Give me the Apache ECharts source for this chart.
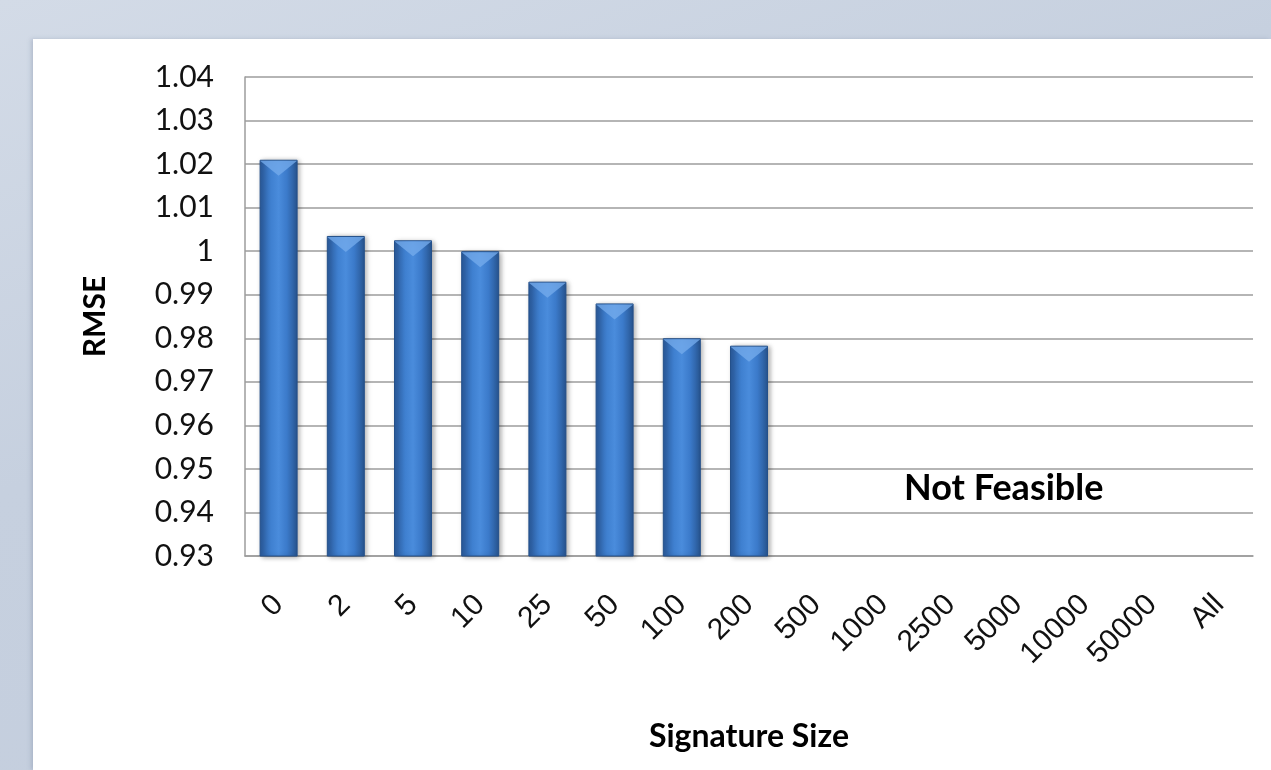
<!DOCTYPE html>
<html>
<head>
<meta charset="utf-8">
<script src="https://cdn.jsdelivr.net/npm/echarts@6/dist/echarts.min.js"></script>
<style>
  html, body { margin: 0; padding: 0; width: 1271px; height: 770px; overflow: hidden; }
  body { background: linear-gradient(160deg, #d3dbe7 0%, #c6d0df 40%, #c3cddd 100%); position: relative; }
  #panel { position: absolute; left: 33px; top: 39px; width: 1238px; height: 731px; background: #ffffff; box-shadow: -2px 0 4px rgba(120,135,160,0.35); }
  #chart { position: absolute; left: 0; top: 0; width: 1271px; height: 770px; }
</style>
</head>
<body>
<div id="panel"></div>
<div id="chart"></div>
<script>
const categories = ['0', '2', '5', '10', '25', '50', '100', '200', '500', '1000', '2500', '5000', '10000', '50000', 'All'];
const rmse = [1.021, 1.0035, 1.0025, 1.000, 0.993, 0.988, 0.980, 0.9783, null, null, null, null, null, null, null];
const yMin = 0.93, yMax = 1.04, yStep = 0.01;
const annotation = 'Not Feasible';

const chart = echarts.init(document.getElementById('chart'), null, { renderer: 'canvas' });
const gridColor = '#9c9c9c';
const barGrad = new echarts.graphic.LinearGradient(0, 0, 1, 0, [
  { offset: 0, color: '#2a5a9c' },
  { offset: 0.3, color: '#3f80d0' },
  { offset: 0.5, color: '#4a8cdc' },
  { offset: 0.72, color: '#3b7aca' },
  { offset: 1, color: '#27548f' }
]);

chart.setOption({
  backgroundColor: 'transparent',
  animation: false,
  grid: { left: 245, right: 18, top: 77, bottom: 214, containLabel: false },
  xAxis: {
    type: 'category',
    data: categories,
    name: 'Signature Size',
    nameLocation: 'middle',
    nameGap: 165,
    nameTextStyle: { fontFamily: 'Lato', fontWeight: 'bold', fontSize: 32, color: '#000', verticalAlign: 'top' },
    axisLine: { show: true, lineStyle: { color: gridColor, width: 1.5 } },
    axisTick: { show: false },
    axisLabel: { rotate: 45, margin: 44, fontFamily: 'Liberation Sans', fontSize: 30, color: '#111', interval: 0 },
    splitLine: { show: false }
  },
  yAxis: {
    type: 'value',
    min: yMin, max: yMax, interval: yStep,
    name: 'RMSE',
    nameLocation: 'middle',
    nameGap: 135,
    nameTextStyle: { fontFamily: 'Lato', fontWeight: 'bold', fontSize: 30, color: '#000' },
    axisLine: { show: true, lineStyle: { color: gridColor, width: 1.5 } },
    axisTick: { show: false },
    axisLabel: {
      margin: 31, fontFamily: 'Lato', fontSize: 30, color: '#111',
      formatter: v => String(parseFloat(v.toFixed(2)))
    },
    splitLine: { show: true, lineStyle: { color: gridColor, width: 1.5 } }
  },
  series: [
    {
      type: 'bar',
      data: rmse,
      barWidth: 38,
      itemStyle: {
        color: barGrad,
        borderColor: '#24508a',
        borderWidth: 1,
        shadowColor: 'rgba(0,0,0,0.35)',
        shadowBlur: 5,
        shadowOffsetX: 2,
        shadowOffsetY: 1
      },
      z: 2
    },
    {
      type: 'pictorialBar',
      data: rmse,
      symbol: 'path://M0,0 L40,0 L20,14 Z',
      symbolSize: [37, 15],
      symbolPosition: 'end',
      symbolOffset: [0, 1],
      itemStyle: { color: 'rgba(115,170,235,0.8)' },
      silent: true,
      z: 3
    }
  ],
  graphic: [
    {
      type: 'text',
      left: 904, top: 470,
      style: { text: annotation, fontFamily: 'Lato', fontWeight: 'bold', fontSize: 36, fill: '#000' }
    }
  ]
});
</script>
</body>
</html>
